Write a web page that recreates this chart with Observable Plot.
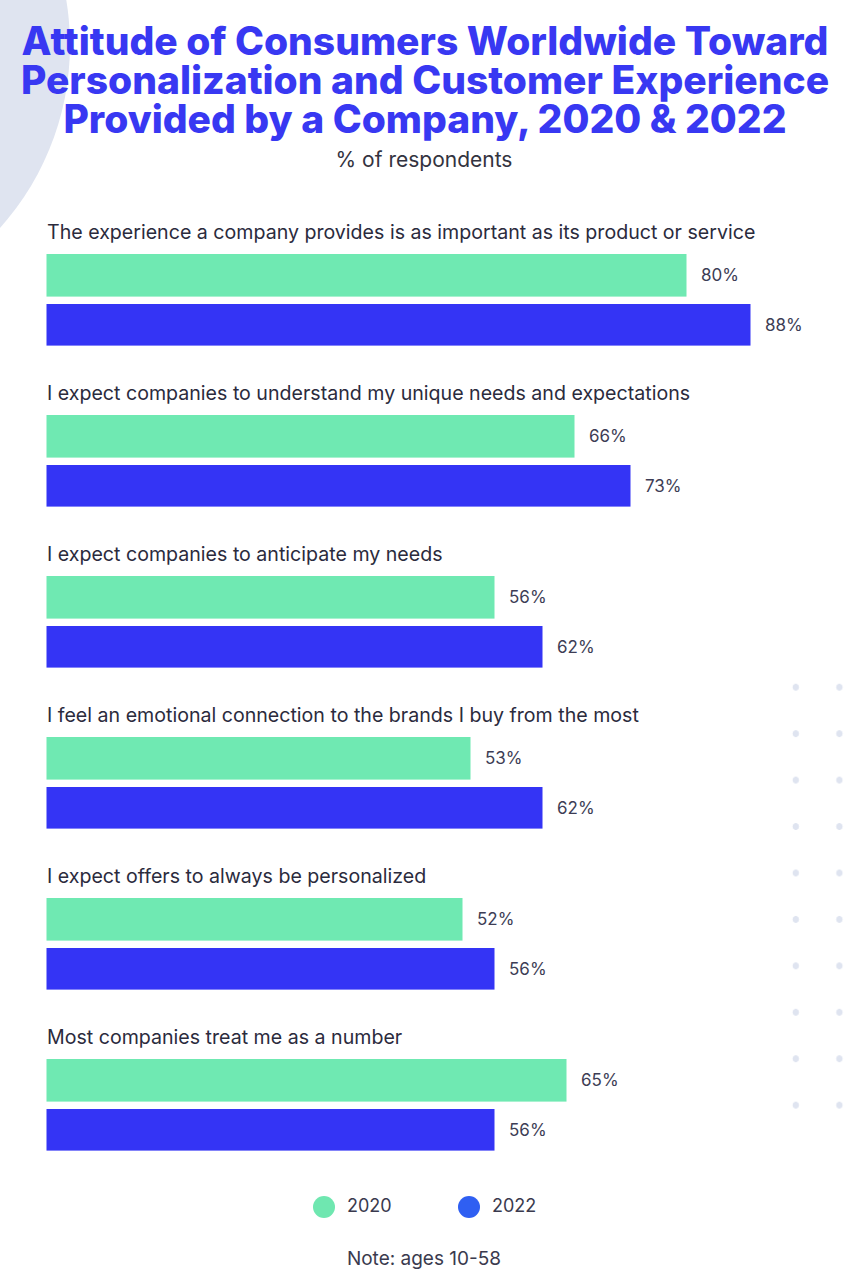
<!DOCTYPE html>
<html><head><meta charset="utf-8">
<script src="https://cdn.jsdelivr.net/npm/d3@7"></script>
<script src="https://cdn.jsdelivr.net/npm/@observablehq/plot@0.6"></script>
<style>
html,body{margin:0;padding:0;background:#fff;}
#page{position:relative;width:844px;height:1284px;overflow:hidden;font-family:Inter,"Noto Sans",sans-serif;}
#blob{position:absolute;left:-478px;top:-229px;width:548px;height:548px;border-radius:50%;background:#dfe4f0;}
#dots{position:absolute;left:773.9px;top:663.5px;width:87.2px;height:464.5px;
  background-image:radial-gradient(circle at center,#dfe4f0 0,#dfe4f0 3px,rgba(255,255,255,0) 3.6px);
  background-size:43.6px 46.45px;}
#title{position:absolute;left:0;top:21.3px;width:850px;text-align:center;font-size:39px;line-height:39px;font-weight:800;color:#3838f2;}
#subtitle{position:absolute;left:0;top:149px;width:848px;text-align:center;font-size:21px;line-height:21px;color:#333340;}
#chart{position:absolute;left:0;top:190px;}
.lg{position:absolute;font-size:18px;line-height:18px;color:#3a3a4e;}
.dot{position:absolute;width:22px;height:22px;border-radius:50%;}
#note{position:absolute;left:0;top:1248.6px;width:848px;text-align:center;font-size:19px;line-height:19px;color:#3a3a4e;}
</style></head>
<body>
<div id="page">
  <div id="blob"></div>
  <div id="dots"></div>
  <div id="title">Attitude of Consumers Worldwide Toward<br>Personalization and Customer Experience<br>Provided by a Company, 2020 &amp; 2022</div>
  <div id="subtitle">% of respondents</div>
  <div id="chart"></div>
  <div id="legend"></div>
  <div id="note">Note: ages 10-58</div>
</div>
<script>
const categories = [
  "The experience a company provides is as important as its product or service",
  "I expect companies to understand my unique needs and expectations",
  "I expect companies to anticipate my needs",
  "I feel an emotional connection to the brands I buy from the most",
  "I expect offers to always be personalized",
  "Most companies treat me as a number"
];
const years = ["2020", "2022"];
const values2020 = [80, 66, 56, 53, 52, 65];
const values2022 = [88, 73, 62, 62, 56, 56];
const barColors = ["#6fe9b2", "#3434f5"];
const legendColors = ["#6fe7b0", "#2f5ff2"];

const rows2020 = categories.map((c, i) => ({category: c, year: years[0], value: values2020[i]}));
const rows2022 = categories.map((c, i) => ({category: c, year: years[1], value: values2022[i]}));

const chart = Plot.plot({
  width: 844,
  height: 1000,
  marginTop: 24,
  marginBottom: 7.6,
  marginLeft: 46.5,
  marginRight: 0,
  x: {domain: [0, 100], range: [46.5, 846.5], axis: null},
  y: {domain: categories, padding: 0, axis: null},
  style: {background: "transparent", fontFamily: "Inter, 'Noto Sans', sans-serif", overflow: "visible"},
  marks: [
    Plot.barX(rows2020, {x: "value", y: "category", fill: barColors[0], insetTop: 39, insetBottom: 79.4}),
    Plot.barX(rows2022, {x: "value", y: "category", fill: barColors[1], insetTop: 89, insetBottom: 30.4}),
    Plot.text(categories, {x: 0, y: d => d, text: d => d, textAnchor: "start", dy: -63, fontSize: 19.6, fill: "#2b2b3d"}),
    Plot.text(rows2020, {x: "value", y: "category", text: d => d.value + "%", textAnchor: "start", dx: 14, dy: -20.2, fontSize: 17, fill: "#3d3d55"}),
    Plot.text(rows2022, {x: "value", y: "category", text: d => d.value + "%", textAnchor: "start", dx: 14, dy: 29.3, fontSize: 17, fill: "#3d3d55"})
  ]
});
document.getElementById("chart").appendChild(chart);

// legend
const legend = document.getElementById("legend");
const legendPos = [{dot: 313, text: 347}, {dot: 458, text: 492}];
years.forEach((y, i) => {
  const d = document.createElement("div");
  d.className = "dot";
  d.style.left = legendPos[i].dot + "px";
  d.style.top = "1195.5px";
  d.style.background = legendColors[i];
  legend.appendChild(d);
  const t = document.createElement("div");
  t.className = "lg";
  t.style.left = legendPos[i].text + "px";
  t.style.top = "1197px";
  t.textContent = y;
  legend.appendChild(t);
});
</script>
</body></html>
